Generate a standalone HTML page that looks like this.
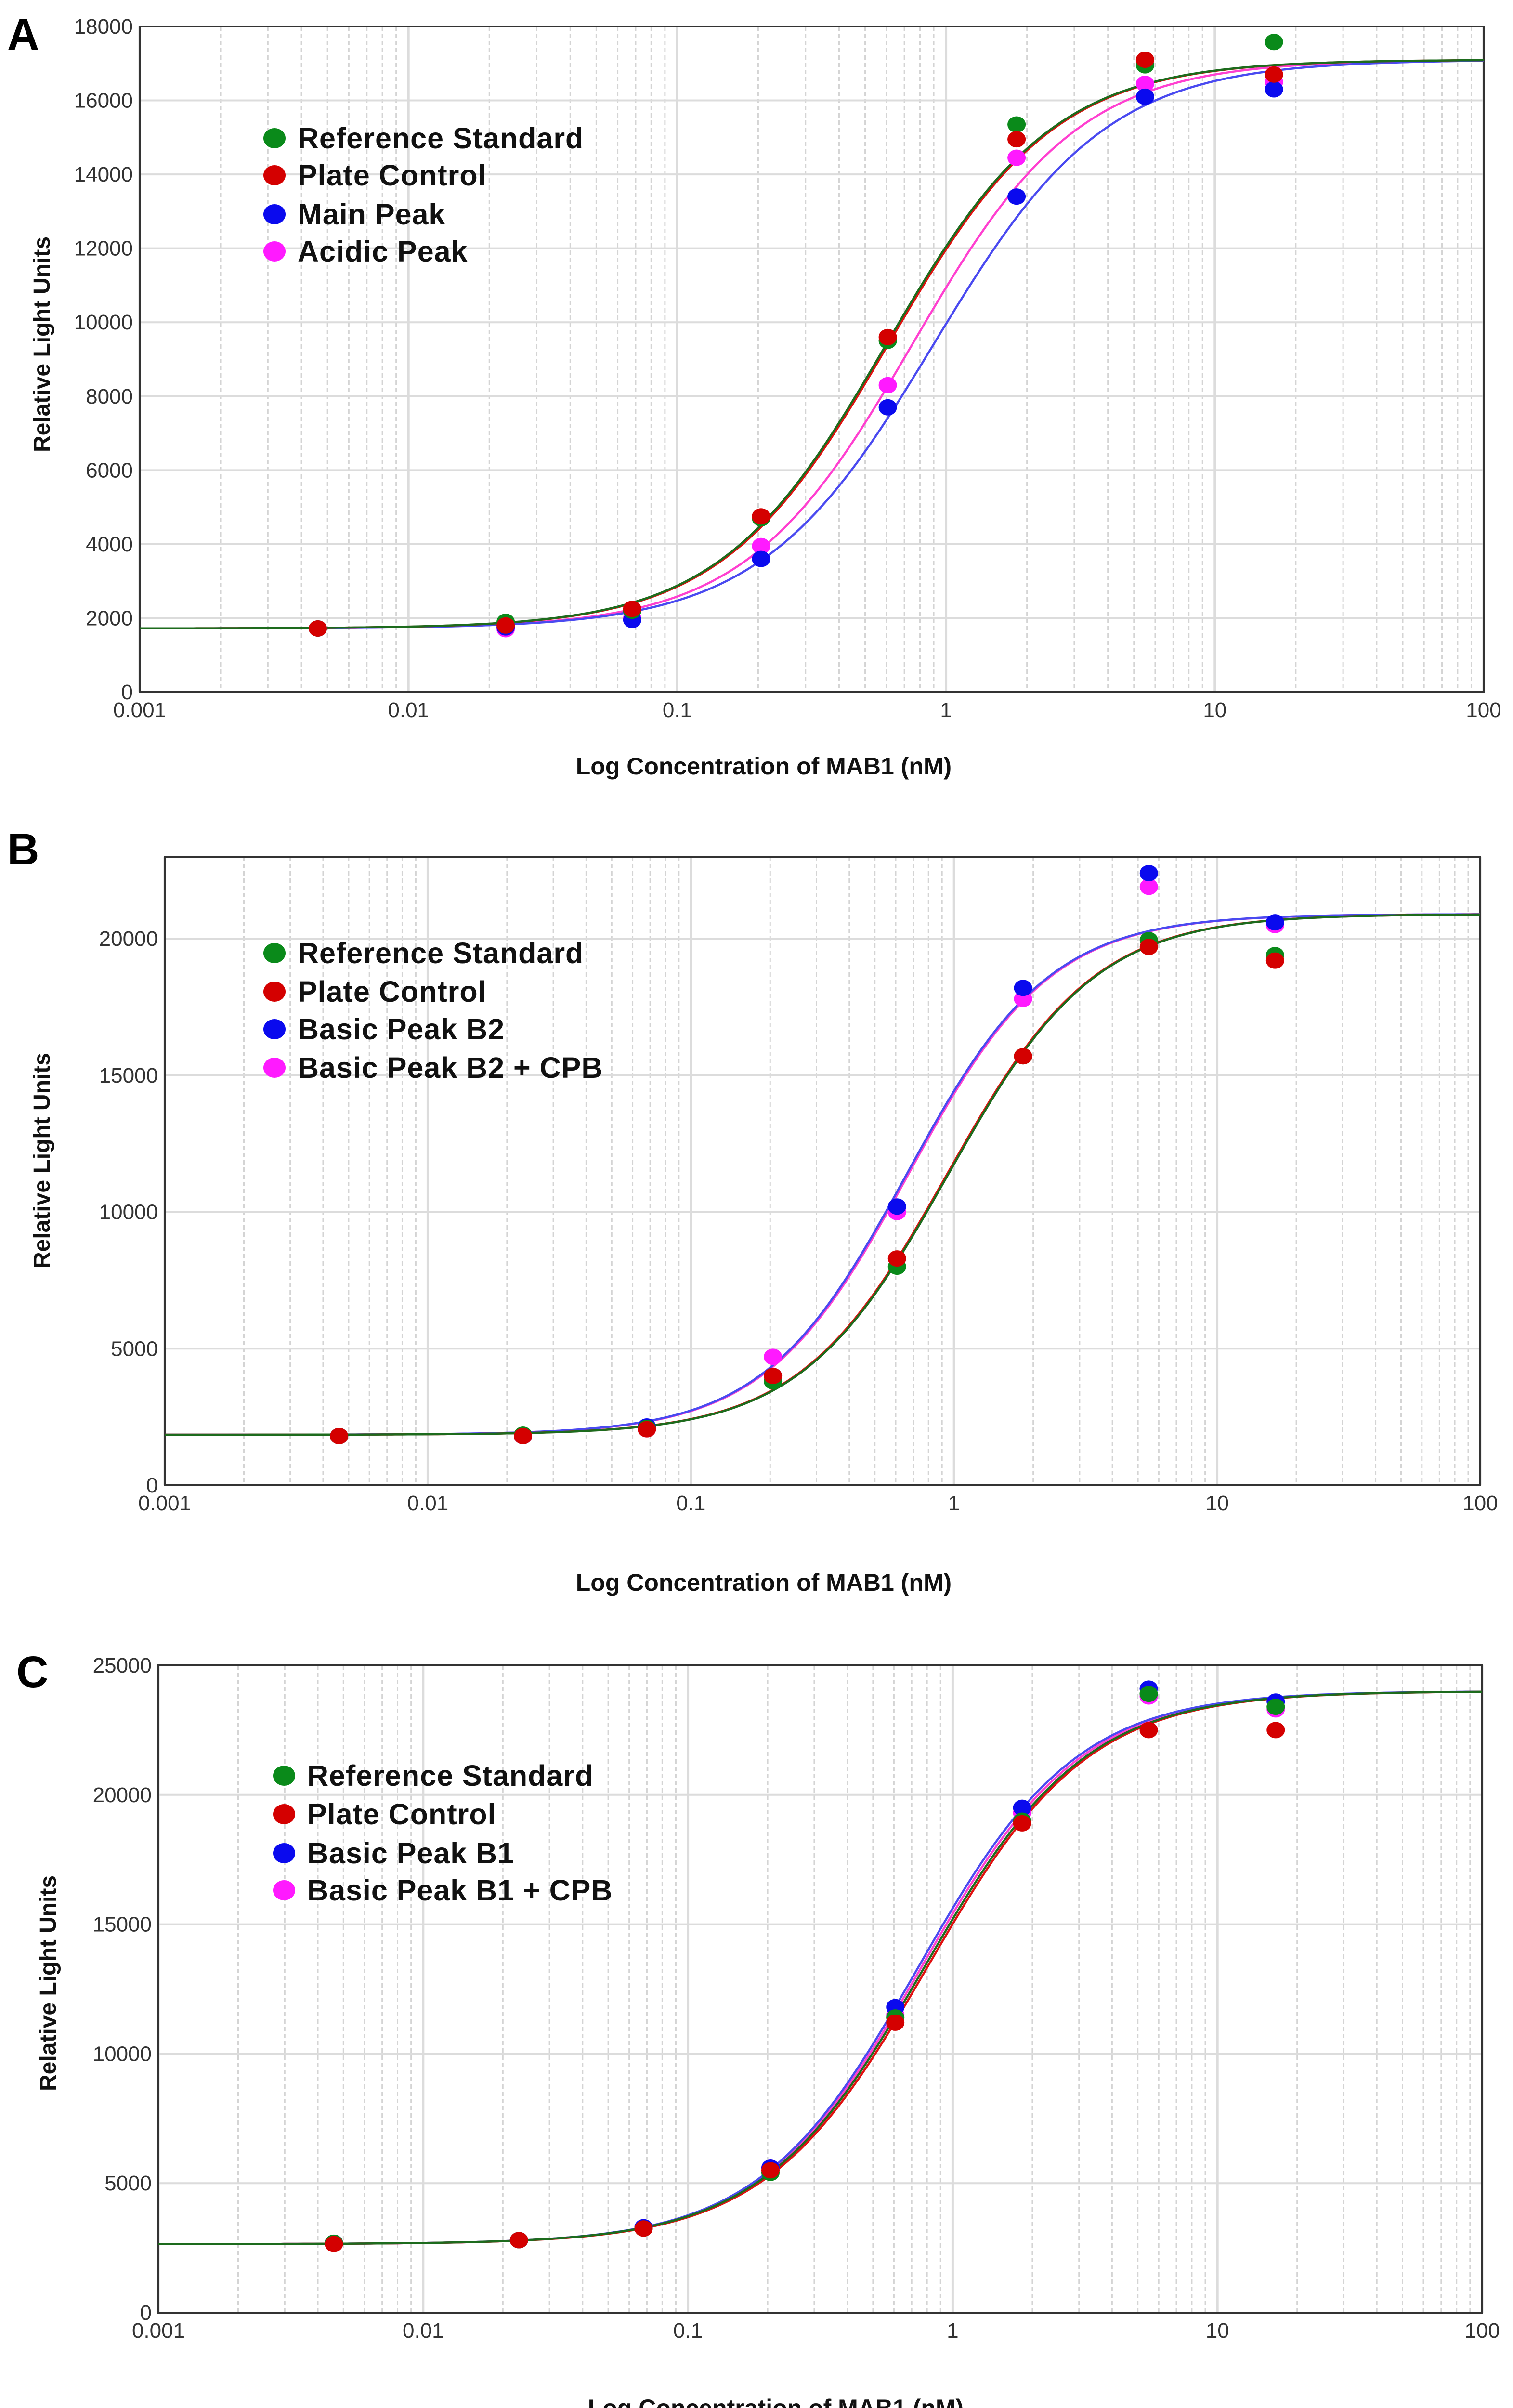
<!DOCTYPE html>
<html><head><meta charset="utf-8"><style>
html,body{margin:0;padding:0;background:#fff;overflow:hidden;width:3142px;height:5084px;}
svg{display:block;font-family:"Liberation Sans",sans-serif;overflow:hidden;}
</style></head><body>
<svg id="chart" width="3142" height="5084" viewBox="0 0 3142 5084" xmlns="http://www.w3.org/2000/svg"></svg>
<script>
// shared concentrations (nM)
const conc = [0.0046, 0.023, 0.068, 0.205, 0.607, 1.83, 5.5, 16.6];
const seriesColors = ["#0a8a1a", "#d40000", "#0a0aee", "#ff1aff"];
const curveColors = ["#1d6b1d", "#e01010", "#4a4af0", "#ff40d0"];
const xTickLabels = ["0.001", "0.01", "0.1", "1", "10", "100"];
const xTickValues = [0.001, 0.01, 0.1, 1, 10, 100];

// Panel A
const namesA = ["Reference Standard", "Plate Control", "Main Peak", "Acidic Peak"];
const greenA = [1720, 1900, 2200, 4700, 9500, 15350, 16950, 17580];
const redA = [1720, 1800, 2250, 4750, 9600, 14950, 17100, 16700];
const blueA = [1720, 1750, 1950, 3600, 7700, 13400, 16100, 16300];
const magentaA = [1720, 1700, 2000, 3950, 8300, 14450, 16450, 16500];
const bottomA = [1720, 1720, 1720, 1720];
const topA = [17100, 17100, 17100, 17100];
const ec50A = [0.6, 0.61, 0.9, 0.75];
const hillA = [1.4, 1.4, 1.35, 1.4];
const yTicksA = [0, 2000, 4000, 6000, 8000, 10000, 12000, 14000, 16000, 18000];

// Panel B
const namesB = ["Reference Standard", "Plate Control", "Basic Peak B2", "Basic Peak B2 + CPB"];
const greenB = [1800, 1850, 2100, 3800, 8000, 15700, 19950, 19400];
const redB = [1800, 1800, 2050, 4000, 8300, 15700, 19700, 19200];
const blueB = [1800, 1800, 2150, 4000, 10200, 18200, 22400, 20600];
const magentaB = [1800, 1800, 2050, 4700, 10000, 17800, 21900, 20500];
const bottomB = [1850, 1850, 1850, 1850];
const topB = [20900, 20900, 20900, 20900];
const ec50B = [0.95, 0.94, 0.66, 0.67];
const hillB = [1.55, 1.55, 1.6, 1.6];
const yTicksB = [0, 5000, 10000, 15000, 20000];

// Panel C
const namesC = ["Reference Standard", "Plate Control", "Basic Peak B1", "Basic Peak B1 + CPB"];
const greenC = [2700, 2800, 3250, 5400, 11400, 19000, 23900, 23400];
const redC = [2650, 2800, 3250, 5500, 11200, 18900, 22500, 22500];
const blueC = [2700, 2800, 3300, 5600, 11800, 19500, 24100, 23600];
const magentaC = [2700, 2800, 3300, 5600, 11500, 19300, 23800, 23300];
const bottomC = [2650, 2650, 2650, 2650];
const topC = [24000, 24000, 24000, 24000];
const ec50C = [0.78, 0.8, 0.74, 0.76];
const hillC = [1.43, 1.43, 1.45, 1.44];
const yTicksC = [0, 5000, 10000, 15000, 20000, 25000];

const NS = "http://www.w3.org/2000/svg";
const svg = document.getElementById("chart");
function mk(tag, attrs, parent, text) {
  const e = document.createElementNS(NS, tag);
  for (const k in attrs) e.setAttribute(k, attrs[k]);
  if (text !== undefined) e.textContent = text;
  (parent || svg).appendChild(e);
  return e;
}

function panel(cfg) {
  const g = mk("g", {});
  
  
  const L = cfg.left, R = cfg.right, T = cfg.top, B = cfg.bottom;
  const xs = v => L + (Math.log10(v) + 3) / 5 * (R - L);
  const ys = v => B - v / cfg.ymax * (B - T);
  for (let d = -3; d < 2; d++) {
    for (let m = 2; m <= 9; m++) {
      const x = xs(m * Math.pow(10, d));
      const ln = mk("line", {x1: x, x2: x, y1: T, y2: B, stroke: "#d4d4d4", "stroke-width": 3, "stroke-dasharray": "9,6"}, g);
      
      
    }
  }
  xTickValues.forEach((v, i) => {
    const x = xs(v);
    const ln = mk("line", {x1: x, x2: x, y1: T, y2: B, stroke: "#dcdcdc", "stroke-width": 5}, g);
    
    
    const t = mk("text", {x: x, y: B + 52, "font-size": 44, fill: "#333", "text-anchor": "middle"}, g, xTickLabels[i]);
    
    
  });
  cfg.yticks.forEach(v => {
    const y = ys(v);
    const ln = mk("line", {x1: L, x2: R, y1: y, y2: y, stroke: "#dcdcdc", "stroke-width": 4}, g);
    
    
    const t = mk("text", {x: L - 14, y: y + 15, "font-size": 44, fill: "#333", "text-anchor": "end"}, g, String(v));
    
    
  });
  const fr = mk("rect", {x: L, y: T, width: R - L, height: B - T, fill: "none", stroke: "#333", "stroke-width": 4}, g);
  
  
  for (let s = 3; s >= 0; s--) {
    let d = "";
    for (let i = 0; i <= 400; i++) {
      const lx = -3 + 5 * i / 400;
      const x = Math.pow(10, lx);
      const y = cfg.bottoms[s] + (cfg.tops[s] - cfg.bottoms[s]) / (1 + Math.pow(cfg.ec50[s] / x, cfg.hill[s]));
      d += (i ? "L" : "M") + xs(x).toFixed(1) + "," + ys(y).toFixed(1);
    }
    const p = mk("path", {d: d, fill: "none", stroke: curveColors[s], "stroke-width": 4.5}, g);
    
    
  }
  [3, 2, 0, 1].forEach(s => {
    cfg.series[s].forEach((v, i) => {
      const c = mk("ellipse", {cx: xs(conc[i]), cy: ys(v), rx: 19, ry: 17, fill: seriesColors[s]}, g);
      
      
    });
  });
  cfg.names.forEach((n, i) => {
    const y = cfg.legY[i];
    const c = mk("ellipse", {cx: cfg.legX, cy: y, rx: 23, ry: 21, fill: seriesColors[i]}, g);
    
    
    const t = mk("text", {x: cfg.legX + 48, y: y + 21, "font-size": 61, "font-weight": "bold", fill: "#111", "letter-spacing": "1"}, g, n);
    
    
  });
  const yt = mk("text", {x: 0, y: 0, "font-size": 48, "font-weight": "bold", fill: "#111", "text-anchor": "middle", transform: "translate(" + (cfg.ytX + 16) + "," + cfg.ytY + ") rotate(-90)"}, g, "Relative Light Units");
  
  
  const xt = mk("text", {x: cfg.xtX, y: cfg.xtY + 16, "font-size": 50, "font-weight": "bold", fill: "#111", "text-anchor": "middle"}, g, "Log Concentration of MAB1 (nM)");
  
  
  const pl = mk("text", {x: cfg.labX - 30, y: cfg.labY + 32, "font-size": 92, "font-weight": "bold", fill: "#000"}, g, cfg.id);
  
  
}

panel({id: "A", left: 290, right: 3081, top: 55, bottom: 1437, ymax: 18000, yticks: yTicksA,
  series: [greenA, redA, blueA, magentaA], names: namesA, bottoms: bottomA, tops: topA, ec50: ec50A, hill: hillA,
  legX: 570, legY: [287, 364, 445, 522], ytX: 87, ytY: 715, xtX: 1586, xtY: 1592, labX: 45, labY: 71});
panel({id: "B", left: 342, right: 3074, top: 1779, bottom: 3084, ymax: 23000, yticks: yTicksB,
  series: [greenB, redB, blueB, magentaB], names: namesB, bottoms: bottomB, tops: topB, ec50: ec50B, hill: hillB,
  legX: 570, legY: [1979, 2059, 2137, 2217], ytX: 87, ytY: 2410, xtX: 1586, xtY: 3287, labX: 45, labY: 1763});
panel({id: "C", left: 329, right: 3078, top: 3458, bottom: 4802, ymax: 25000, yticks: yTicksC,
  series: [greenC, redC, blueC, magentaC], names: namesC, bottoms: bottomC, tops: topC, ec50: ec50C, hill: hillC,
  legX: 590, legY: [3687, 3767, 3848, 3925], ytX: 100, ytY: 4118, xtX: 1611, xtY: 5001, labX: 64, labY: 3471});
</script>
</body></html>
